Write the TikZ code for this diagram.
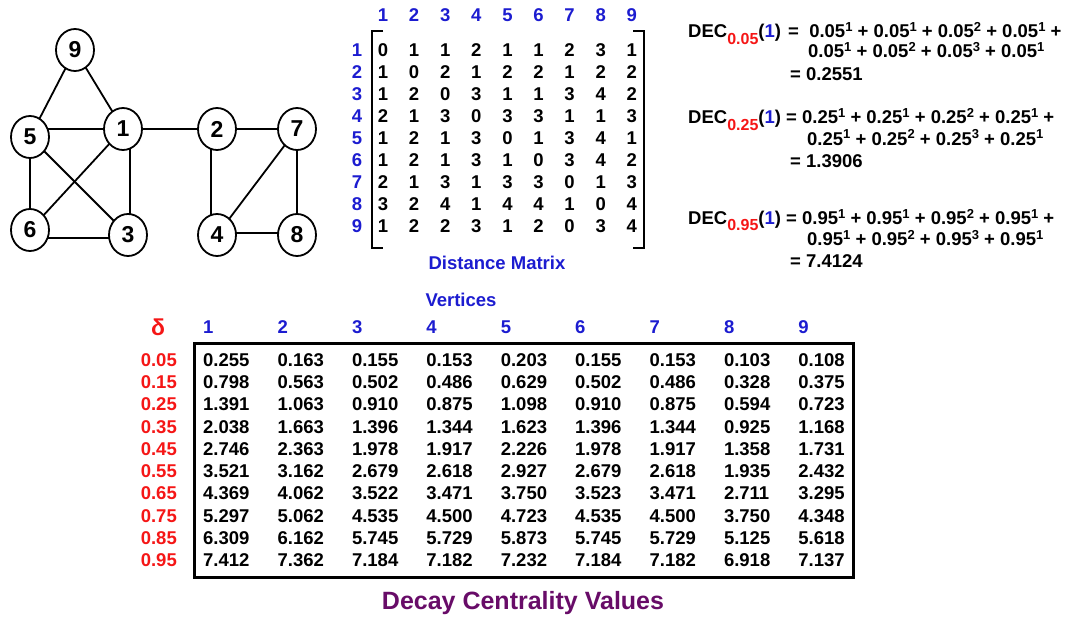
\documentclass[tikz,border=0pt]{standalone}
\usepackage{fontspec}
\setmainfont{Liberation Sans}
\usetikzlibrary{shapes.geometric,backgrounds}
\definecolor{hblue}{RGB}{28,28,208}
\definecolor{hred}{RGB}{245,22,22}
\definecolor{hpurple}{RGB}{104,12,104}
\newcommand\mysub[1]{\raisebox{-6pt}{\fontsize{16}{16}\selectfont #1}}
\newcommand\mysup[1]{\raisebox{6pt}{\fontsize{13}{13}\selectfont #1}}
\begin{document}
\begin{tikzpicture}[x=1pt,y=-1pt,
  vert/.style={ellipse, draw, line width=1.8pt, fill=white, minimum width=38pt, minimum height=42pt, inner sep=0pt, font=\fontsize{23}{23}\selectfont\bfseries},
  edge/.style={line width=1.8pt},
  txt/.style={inner sep=0pt, font=\fontsize{18.5}{20}\selectfont\bfseries},
  bl/.style={txt, text=hblue},
  rd/.style={txt, text=hred},
  fm/.style={txt, anchor=base west}
]
\useasboundingbox (0,0) rectangle (1072,618);

% ---------------- graph ----------------
\node[vert] (n9) at (75,50) {9};
\node[vert] (n5) at (30,137) {5};
\node[vert] (n1) at (123,129) {1};
\node[vert] (n2) at (217,129) {2};
\node[vert] (n7) at (297,129) {7};
\node[vert] (n6) at (30,230) {6};
\node[vert] (n3) at (128,235) {3};
\node[vert] (n4) at (217,235) {4};
\node[vert] (n8) at (297,235) {8};
\begin{scope}[on background layer]
  \foreach \a/\b in {n9/n5,n9/n1,n5/n3,n1/n6,n7/n4,n1/n2,n2/n7,n5/n6,n7/n8}
    \draw[edge] (\a.center) -- (\b.center);
  \draw[edge] (n1.center) -- (n1.center -| n5.center);
  \draw[edge] ([xshift=7pt]n1.center) -- ([xshift=2pt]n3.center);
  \draw[edge] ([xshift=-6pt]n2.center) -- ([xshift=-6pt]n4.center);
  \draw[edge] ([yshift=-8pt]n6.center) -- ([yshift=-3pt]n3.center);
  \draw[edge] ([yshift=2pt]n4.center) -- ([yshift=2pt]n8.center);
\end{scope}

% ---------------- distance matrix ----------------
\foreach \c in {1,...,9}
  \node[bl] (mh\c) at ({383+31.1*(\c-1)},15) {\c};
\foreach \r in {1,...,9}
  \node[bl] (mr\r) at (357,{50+22*(\r-1)}) {\r};
\foreach \row [count=\r] in {
  {0,1,1,2,1,1,2,3,1},
  {1,0,2,1,2,2,1,2,2},
  {1,2,0,3,1,1,3,4,2},
  {2,1,3,0,3,3,1,1,3},
  {1,2,1,3,0,1,3,4,1},
  {1,2,1,3,1,0,3,4,2},
  {2,1,3,1,3,3,0,1,3},
  {3,2,4,1,4,4,1,0,4},
  {1,2,2,3,1,2,0,3,4}}
  \foreach \v [count=\c] in \row
    \node[txt] (m\r-\c) at ({383+31.1*(\c-1)},{50+22*(\r-1)}) {\v};
\coordinate (lbt) at (383,31);
\coordinate (lbb) at (383,248);
\coordinate (rbt) at (633,31);
\coordinate (rbb) at (633,248);
\draw[line width=1.8pt] (lbt) -- (372,31) -- (372,248) -- (lbb);
\draw[line width=1.8pt] (rbt) -- (644,31) -- (644,248) -- (rbb);
\node[bl] (dm) at (497,263) {Distance Matrix};

% ---------------- formulas ----------------
\node[fm] (f1a) at (688,38) {DEC\mysub{\textcolor{hred}{0.05}}(\textcolor{hblue}{1})};
\node[fm] (f1b) at (788,38) {=\ \ 0.05\mysup{1} + 0.05\mysup{1} + 0.05\mysup{2} + 0.05\mysup{1} +};
\node[fm] (f1c) at (808,58) {0.05\mysup{1} + 0.05\mysup{2} + 0.05\mysup{3} + 0.05\mysup{1}};
\node[fm] (f1d) at (790,80.5) {= 0.2551};

\node[fm] (f2a) at (688,124) {DEC\mysub{\textcolor{hred}{0.25}}(\textcolor{hblue}{1})};
\node[fm] (f2b) at (786,124) {= 0.25\mysup{1} + 0.25\mysup{1} + 0.25\mysup{2} + 0.25\mysup{1} +};
\node[fm] (f2c) at (807,145) {0.25\mysup{1} + 0.25\mysup{2} + 0.25\mysup{3} + 0.25\mysup{1}};
\node[fm] (f2d) at (790,167) {= 1.3906};

\node[fm] (f3a) at (688,224) {DEC\mysub{\textcolor{hred}{0.95}}(\textcolor{hblue}{1})};
\node[fm] (f3b) at (786,224) {= 0.95\mysup{1} + 0.95\mysup{1} + 0.95\mysup{2} + 0.95\mysup{1} +};
\node[fm] (f3c) at (807,245) {0.95\mysup{1} + 0.95\mysup{2} + 0.95\mysup{3} + 0.95\mysup{1}};
\node[fm] (f3d) at (790,267) {= 7.4124};

% ---------------- table ----------------
\node[bl] (vt) at (461,300) {Vertices};
\node[rd, font=\fontsize{23}{23}\selectfont\bfseries] (dl) at (158,327) {δ};
\foreach \c in {1,...,9}
  \node[bl, anchor=west] (th\c) at ({203+74.4*(\c-1)},327) {\c};
\foreach \l [count=\r] in {0.05,0.15,0.25,0.35,0.45,0.55,0.65,0.75,0.85,0.95}
  \node[rd, anchor=east] (tr\r) at (177,{360+22.25*(\r-1)}) {\l};
\draw[line width=3pt] (194,343) rectangle (853,577);
\foreach \row [count=\r] in {
  {0.255,0.163,0.155,0.153,0.203,0.155,0.153,0.103,0.108},
  {0.798,0.563,0.502,0.486,0.629,0.502,0.486,0.328,0.375},
  {1.391,1.063,0.910,0.875,1.098,0.910,0.875,0.594,0.723},
  {2.038,1.663,1.396,1.344,1.623,1.396,1.344,0.925,1.168},
  {2.746,2.363,1.978,1.917,2.226,1.978,1.917,1.358,1.731},
  {3.521,3.162,2.679,2.618,2.927,2.679,2.618,1.935,2.432},
  {4.369,4.062,3.522,3.471,3.750,3.523,3.471,2.711,3.295},
  {5.297,5.062,4.535,4.500,4.723,4.535,4.500,3.750,4.348},
  {6.309,6.162,5.745,5.729,5.873,5.745,5.729,5.125,5.618},
  {7.412,7.362,7.184,7.182,7.232,7.184,7.182,6.918,7.137}}
  \foreach \v [count=\c] in \row
    \node[txt, anchor=west] (t\r-\c) at ({203+74.4*(\c-1)},{360+22.25*(\r-1)}) {\v};
\node[txt, text=hpurple, font=\fontsize{25}{26}\selectfont\bfseries] (title) at (523,603) {Decay Centrality Values};
\end{tikzpicture}
\end{document}
